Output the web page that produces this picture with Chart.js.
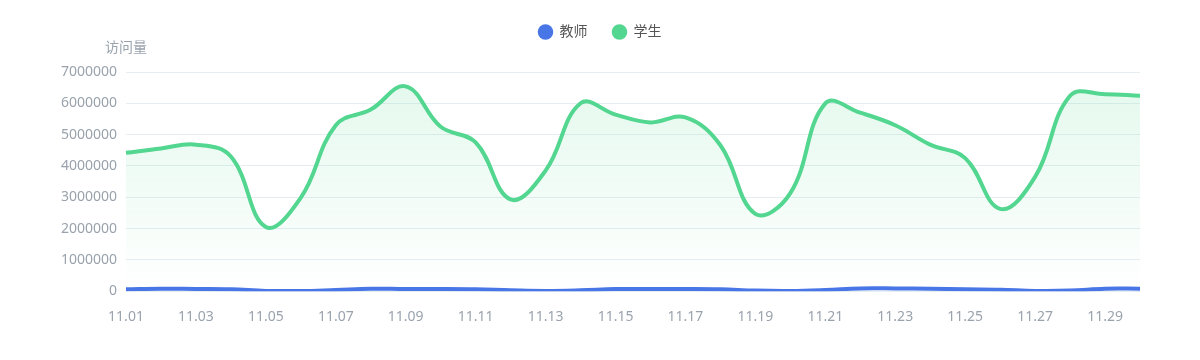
<!DOCTYPE html>
<html>
<head>
<meta charset="utf-8">
<script src="https://cdn.jsdelivr.net/npm/chart.js@4/dist/chart.umd.min.js"></script>
<style>
  html, body { margin: 0; padding: 0; background: #fff; }
  #wrap { width: 1200px; height: 360px; }
</style>
</head>
<body>
<div id="wrap"><canvas id="visitChart" width="1200" height="360"></canvas></div>
<script>
// DATA
const days = ['11.01','11.02','11.03','11.04','11.05','11.06','11.07','11.08','11.09','11.10',
              '11.11','11.12','11.13','11.14','11.15','11.16','11.17','11.18','11.19','11.20',
              '11.21','11.22','11.23','11.24','11.25','11.26','11.27','11.28','11.29','11.30'];

const teacherVisits = [60000, 80000, 70000, 60000, 10000, 5000, 40000, 80000, 70000, 70000,
                       60000, 30000, 10000, 30000, 70000, 70000, 70000, 60000, 20000, 10000,
                       40000, 90000, 90000, 80000, 60000, 50000, 10000, 20000, 80000, 80000];

const studentVisits = [4420000, 4560000, 4680000, 4300000, 2050000, 2990000, 5300000, 5800000, 6540000, 5250000,
                       4750000, 2930000, 3850000, 6000000, 5640000, 5390000, 5550000, 4660000, 2470000, 3130000,
                       6000000, 5700000, 5300000, 4680000, 4250000, 2630000, 3650000, 6240000, 6290000, 6240000];

const yMax = 7000000;
const yStep = 1000000;

const blue = '#4876e6';
const green = '#52d690';
const fontFamily = "'Noto Sans', 'Noto Sans CJK SC', sans-serif";

// y axis name, drawn above the axis
const axisName = {
    id: 'axisName',
    afterDraw(chart) {
        const c = chart.ctx;
        const area = chart.chartArea;
        c.save();
        c.font = '14px ' + fontFamily;
        c.fillStyle = '#9aa3ad';
        c.textAlign = 'center';
        c.textBaseline = 'middle';
        c.fillText('访问量', area.left, area.top - 24);
        c.restore();
    }
};

// legend: extra room below it, and centred on the whole canvas
const legendGap = {
    id: 'legendGap',
    beforeInit(chart) {
        const fit = chart.legend.fit;
        chart.legend.fit = function() {
            fit.bind(chart.legend)();
            this.height += 23;
        };
    },
    afterLayout(chart) {
        chart.legend.left = 0;
        chart.legend.right = chart.width;
        chart.legend.width = chart.width;
    }
};

// soft green fill under the student line
function greenFill(context) {
    const chart = context.chart;
    const area = chart.chartArea;
    if (!area) return 'rgba(82,214,144,0.1)';
    const g = chart.ctx.createLinearGradient(0, area.top, 0, area.bottom);
    g.addColorStop(0, 'rgba(82,214,144,0.16)');
    g.addColorStop(1, 'rgba(82,214,144,0.0)');
    return g;
}

const ctx = document.getElementById('visitChart');

const myChart = new Chart(ctx, {
    type: 'line',
    data: {
        labels: days,
        datasets: [
            {
                label: '教师',
                data: teacherVisits,
                borderColor: blue,
                backgroundColor: blue,
                borderWidth: 4,
                pointRadius: 0,
                tension: 0.4,
                fill: false
            },
            {
                label: '学生',
                data: studentVisits,
                borderColor: green,
                backgroundColor: greenFill,
                borderWidth: 4,
                pointRadius: 0,
                tension: 0.4,
                fill: 'origin'
            }
        ]
    },
    options: {
        responsive: false,
        animation: false,
        layout: { padding: { left: 0, right: 60, top: 0, bottom: 18 } },
        plugins: {
            legend: {
                position: 'top',
                labels: {
                    usePointStyle: true,
                    boxWidth: 14,
                    boxHeight: 11,
                    padding: 25,
                    color: '#555',
                    font: { family: fontFamily, size: 14 },
                    generateLabels(chart) {
                        return chart.data.datasets.map((ds, i) => ({
                            text: ds.label,
                            fillStyle: ds.borderColor,
                            strokeStyle: ds.borderColor,
                            lineWidth: 0,
                            pointStyle: 'circle',
                            hidden: !chart.isDatasetVisible(i),
                            datasetIndex: i,
                            fontColor: '#555'
                        }));
                    }
                }
            },
            tooltip: { enabled: false }
        },
        scales: {
            x: {
                grid: { display: false, drawTicks: false },
                border: { display: false },
                ticks: {
                    autoSkip: false,
                    maxRotation: 0,
                    padding: 17,
                    color: '#9aa3ad',
                    font: { family: fontFamily, size: 14 },
                    callback: function(value, index) {
                        return index % 2 === 0 ? days[index] : '';
                    }
                }
            },
            y: {
                min: 0,
                max: yMax,
                afterFit(scale) { scale.width = 126; },
                grid: { color: '#e6eef2', drawTicks: false, lineWidth: 1 },
                border: { display: false },
                ticks: {
                    stepSize: yStep,
                    padding: 9,
                    color: '#9aa3ad',
                    font: { family: fontFamily, size: 14 },
                    callback: function(value) { return String(value); }
                }
            }
        }
    },
    plugins: [axisName, legendGap]
});
</script>
</body>
</html>
